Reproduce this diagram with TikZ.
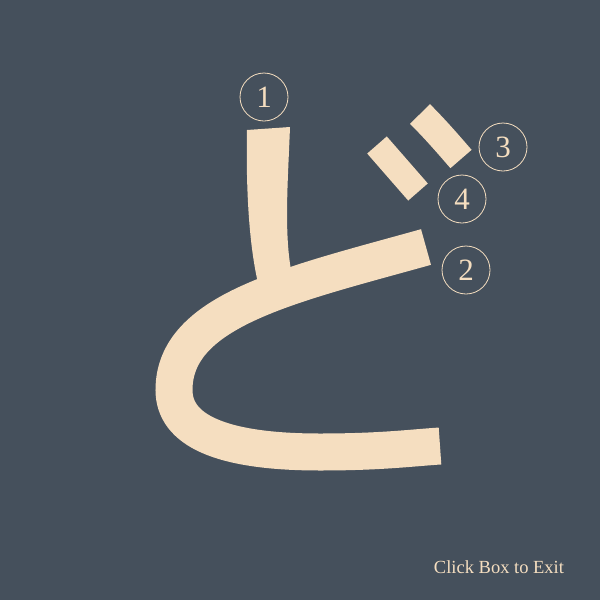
\documentclass[tikz,border=0pt]{standalone}
\usepackage{fontspec}
\setmainfont{Liberation Serif}
\usetikzlibrary{positioning}
\definecolor{slate}{HTML}{45505C}
\definecolor{wheat}{HTML}{F5DEC0}

\begin{document}
\begin{tikzpicture}[
    x=1pt, y=-1pt,
    kana/.style={draw=wheat, line width=37pt, line cap=butt},
    dakuten/.style={draw=wheat, line width=26pt, line cap=butt},
    order/.style={draw=wheat, line width=0.8pt, circle, minimum size=48pt, inner sep=0pt, text=wheat, font=\fontsize{31}{31}\selectfont},
    hint/.style={text=wheat, font=\fontsize{18.5}{18.5}\selectfont, anchor=base},
]
\fill[slate] (0,0) rectangle (600,600);

% Stroke 1 (tapered vertical)
\fill[wheat] (247,130) -- (290,127) .. controls (288,180) and (284,230) .. (291,270)
    -- (282,300) -- (262,300) -- (258,283) .. controls (248,240) and (246,180) .. (247,130) -- cycle;

% Stroke 2 (main curve)
\draw[kana] (426,247) .. controls (290,285) and (174,310) .. (174,390)
    .. controls (174,430) and (220,452) .. (320,452)
    .. controls (380,452) and (410,448) .. (440,446);

% Strokes 3 and 4 (dakuten)
\draw[dakuten, line width=28pt] (420,114) .. controls (436,130) and (448,144) .. (461,159);
\draw[dakuten] (377,145) -- (418,192);

% Stroke order marks
\node[order] (n1) at (264,97) {1};
\node[order] (n2) at (466,270) {2};
\node[order] (n3) at (503,147) {3};
\node[order] (n4) at (462,199) {4};

\node[hint] (exit) at (499,573) {Click Box to Exit};
\end{tikzpicture}
\end{document}
